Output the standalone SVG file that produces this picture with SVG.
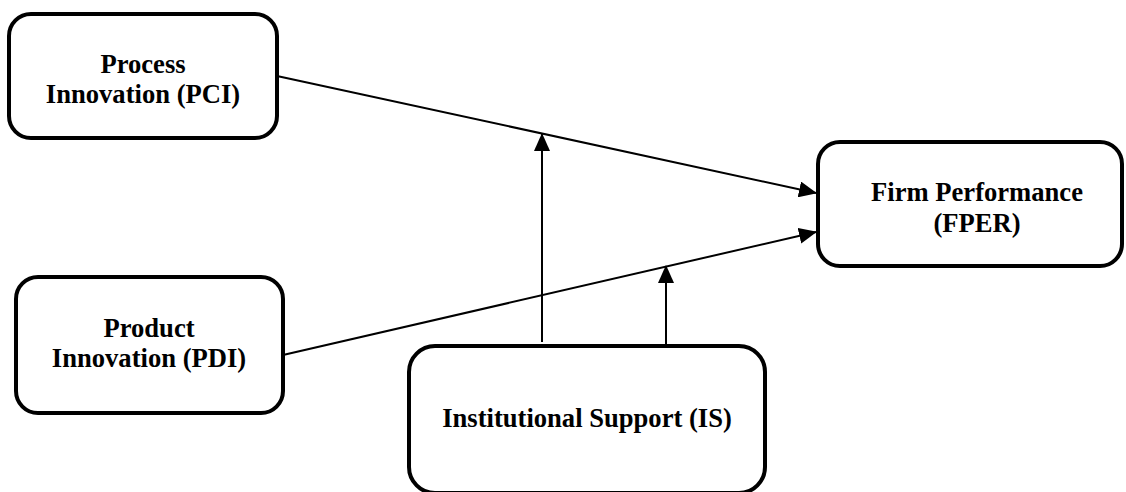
<svg xmlns="http://www.w3.org/2000/svg" width="1126" height="492" viewBox="0 0 1126 492">
<style>
.box{fill:#fff;stroke:#000;stroke-width:4}
.lbl{font-family:"Liberation Serif","Times New Roman",serif;font-weight:bold;font-size:26.6px;text-anchor:middle;fill:#000}
.conn{stroke:#000;stroke-width:2;fill:none;marker-end:url(#ah)}
</style>
<defs>
<marker id="ah" markerUnits="userSpaceOnUse" markerWidth="18" markerHeight="16" refX="17" refY="8" orient="auto">
<path d="M0,0 L18,8 L0,16 Z" fill="#000"/>
</marker>
</defs>
<rect width="1126" height="492" fill="#fff"/>
<g id="connectors">
<line class="conn" x1="277" y1="76" x2="816" y2="193"/>
<line class="conn" x1="283" y1="355" x2="816" y2="232"/>
<line class="conn" x1="542" y1="342" x2="542" y2="134"/>
<line class="conn" x1="666" y1="346" x2="666" y2="266"/>
</g>
<g id="pci">
<rect class="box" x="9" y="14" width="268" height="124" rx="22"/>
<text class="lbl" x="143" y="73">Process</text>
<text class="lbl" x="143" y="103">Innovation (PCI)</text>
</g>
<g id="pdi">
<rect class="box" x="16" y="277" width="267" height="136" rx="22"/>
<text class="lbl" x="149" y="337">Product</text>
<text class="lbl" x="149" y="367">Innovation (PDI)</text>
</g>
<g id="fper">
<rect class="box" x="818" y="142" width="304" height="124" rx="22"/>
<text class="lbl" x="977" y="201">Firm Performance</text>
<text class="lbl" x="977" y="232">(FPER)</text>
</g>
<g id="is">
<rect class="box" x="409" y="346" width="356" height="147" rx="26"/>
<text class="lbl" x="587" y="427">Institutional Support (IS)</text>
</g>
</svg>
